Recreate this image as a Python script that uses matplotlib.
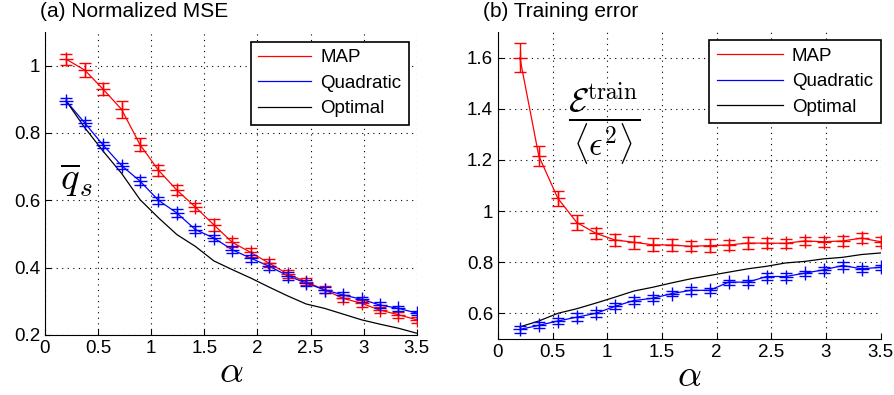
import numpy as np
import matplotlib.pyplot as plt

plt.rcParams['font.family'] = ['Liberation Sans', 'DejaVu Sans']
plt.rcParams['mathtext.fontset'] = 'cm'

alpha = np.linspace(0.2, 3.5, 20)

# (a) normalized MSE
mse_map = [1.019, 0.987, 0.930, 0.870, 0.765, 0.689, 0.630, 0.580, 0.527, 0.475,
           0.445, 0.413, 0.381, 0.358, 0.334, 0.309, 0.294, 0.274, 0.260, 0.245]
mse_map_err = [0.016, 0.02, 0.018, 0.025, 0.02, 0.016, 0.014, 0.013, 0.018, 0.014,
               0.014, 0.012, 0.012, 0.01, 0.01, 0.01, 0.01, 0.009, 0.009, 0.009]
mse_quad = [0.895, 0.830, 0.764, 0.703, 0.657, 0.600, 0.562, 0.513, 0.488, 0.453,
            0.428, 0.404, 0.376, 0.354, 0.334, 0.319, 0.306, 0.289, 0.279, 0.265]
mse_quad_err = [0.008, 0.01, 0.01, 0.009, 0.012, 0.01, 0.012, 0.01, 0.01, 0.01,
                0.01, 0.01, 0.012, 0.009, 0.009, 0.008, 0.008, 0.008, 0.008, 0.007]
mse_opt = [0.895, 0.816, 0.746, 0.680, 0.602, 0.548, 0.498, 0.463, 0.420, 0.394,
           0.369, 0.342, 0.316, 0.292, 0.279, 0.262, 0.245, 0.232, 0.220, 0.205]

# (b) training error
tr_map = [1.600, 1.215, 1.050, 0.955, 0.913, 0.887, 0.878, 0.868, 0.867, 0.862,
          0.865, 0.867, 0.875, 0.874, 0.874, 0.883, 0.880, 0.883, 0.894, 0.880]
tr_map_err = [0.057, 0.04, 0.03, 0.03, 0.022, 0.025, 0.025, 0.025, 0.022, 0.02,
              0.025, 0.02, 0.022, 0.02, 0.018, 0.015, 0.02, 0.018, 0.02, 0.018]
tr_quad = [0.537, 0.553, 0.570, 0.585, 0.600, 0.627, 0.650, 0.659, 0.677, 0.690,
           0.690, 0.722, 0.722, 0.744, 0.744, 0.757, 0.770, 0.787, 0.774, 0.780]
tr_quad_err = [0.012, 0.012, 0.013, 0.015, 0.013, 0.012, 0.012, 0.012, 0.01, 0.013,
               0.01, 0.01, 0.01, 0.012, 0.012, 0.01, 0.012, 0.012, 0.012, 0.01]
tr_opt = [0.547, 0.570, 0.600, 0.618, 0.640, 0.663, 0.687, 0.702, 0.719, 0.735,
          0.748, 0.761, 0.774, 0.784, 0.797, 0.803, 0.813, 0.819, 0.830, 0.836]

fig = plt.figure(figsize=(8.94, 3.95), dpi=100)
ax1 = fig.add_axes([0.0503, 0.152, 0.416, 0.767])
ax2 = fig.add_axes([0.557, 0.142, 0.428, 0.777])

def panel(ax, m, me, q, qe, o, ylim, yticks, leg_anchor, hlen):
    ax.plot(alpha, m, color='r', lw=0.9, label='MAP')
    ax.plot(alpha, q, color='b', lw=0.9, label='Quadratic')
    ax.plot(alpha, o, color='k', lw=0.9, label='Optimal')
    ax.errorbar(alpha, m, yerr=me, fmt='+', color='r', ms=10, mew=1, elinewidth=1, capsize=4.5, capthick=1)
    ax.errorbar(alpha, q, yerr=qe, fmt='+', color='b', ms=10, mew=1, elinewidth=1, capsize=4.5, capthick=1)
    ax.set_xlim(0, 3.5)
    ax.set_ylim(*ylim)
    ax.set_xticks([0, 0.5, 1, 1.5, 2, 2.5, 3, 3.5])
    ax.set_xticklabels(['0', '0.5', '1', '1.5', '2', '2.5', '3', '3.5'])
    ax.set_yticks(yticks)
    ax.set_yticklabels(['%g' % t for t in yticks])
    ax.spines['top'].set_visible(False)
    ax.spines['right'].set_visible(False)
    ax.grid(True, color='k', linestyle=(0, (1, 4)), lw=0.8)
    ax.tick_params(direction='in', labelsize=13.5, length=4)
    ax.set_xlabel(r'$\alpha$', fontsize=27, labelpad=-2)
    leg = ax.legend(loc='upper right', bbox_to_anchor=leg_anchor, borderaxespad=0,
                    fontsize=13.5, handlelength=hlen, handletextpad=0.5, labelspacing=0.45,
                    borderpad=0.4, fancybox=False, framealpha=1)
    leg.get_frame().set_edgecolor('k')
    leg.get_frame().set_linewidth(1.2)

panel(ax1, mse_map, mse_map_err, mse_quad, mse_quad_err, mse_opt, (0.2, 1.1),
      [0.2, 0.4, 0.6, 0.8, 1.0], (0.978, 0.968), 2.8)
panel(ax2, tr_map, tr_map_err, tr_quad, tr_quad_err, tr_opt, (0.5, 1.7),
      [0.6, 0.8, 1.0, 1.2, 1.4, 1.6], (1.0, 0.974), 3.5)

ax1.text(-0.013, 1.05, '(a) Normalized MSE', transform=ax1.transAxes, fontsize=15, ha='left', va='baseline')
ax2.text(-0.04, 1.05, '(b) Training error', transform=ax2.transAxes, fontsize=15, ha='left', va='baseline')

ax1.text(0.04, 0.51, r'$\overline{q}_s$', transform=ax1.transAxes, fontsize=28, ha='left', va='center')
ax2.text(0.277, 0.70, r'$\dfrac{\mathcal{E}^{\rm train}}{\langle\epsilon^2\rangle}$',
         transform=ax2.transAxes, fontsize=24, ha='center', va='center')

fig.savefig('out.png', dpi=100)
